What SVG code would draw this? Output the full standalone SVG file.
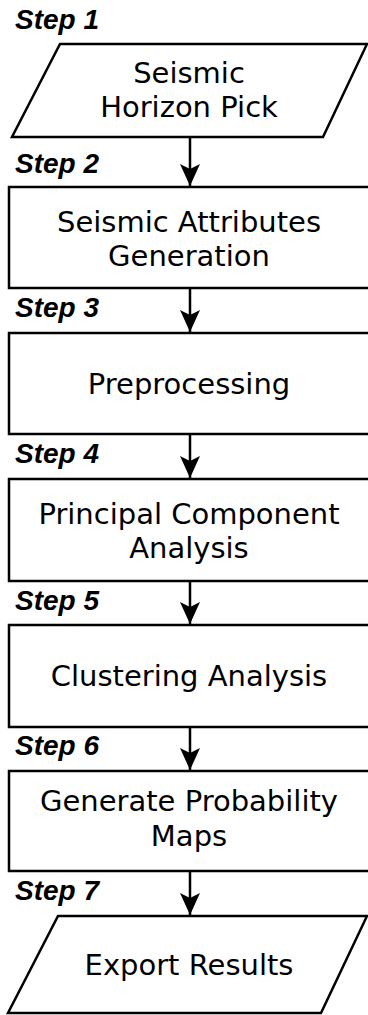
<svg xmlns="http://www.w3.org/2000/svg" width="368" height="1015" viewBox="0 0 368 1015">
<style>
.shape{fill:#fff;stroke:#000;stroke-width:2.5}
.lbl{font-family:"DejaVu Sans",sans-serif;font-size:29px;fill:#000;text-anchor:middle}
.step{font-family:"Liberation Sans",Arial,sans-serif;font-size:28px;font-weight:bold;font-style:italic;fill:#000}
.conn{stroke:#000;stroke-width:2.5;fill:none}
</style>
<defs>
<marker id="arrow" viewBox="0 0 22 20" refX="22" refY="10" markerWidth="22" markerHeight="20" orient="auto" markerUnits="userSpaceOnUse">
<path d="M0,0 L22,10 L0,20 L5,10 Z" fill="#000"/>
</marker>
</defs>
<rect width="368" height="1015" fill="#fff"/>
<g id="step-labels">
<text class="step" x="15" y="29">Step 1</text>
<text class="step" x="15" y="173">Step 2</text>
<text class="step" x="15" y="317">Step 3</text>
<text class="step" x="15" y="463">Step 4</text>
<text class="step" x="15" y="610">Step 5</text>
<text class="step" x="15" y="755">Step 6</text>
<text class="step" x="15" y="900">Step 7</text>
</g>
<g id="connectors">
<line class="conn" x1="190" y1="137" x2="190" y2="186" marker-end="url(#arrow)"/>
<line class="conn" x1="190" y1="288" x2="190" y2="332" marker-end="url(#arrow)"/>
<line class="conn" x1="190" y1="434" x2="190" y2="478" marker-end="url(#arrow)"/>
<line class="conn" x1="190" y1="581" x2="190" y2="624" marker-end="url(#arrow)"/>
<line class="conn" x1="190" y1="727" x2="190" y2="770" marker-end="url(#arrow)"/>
<line class="conn" x1="190" y1="871" x2="190" y2="915" marker-end="url(#arrow)"/>
</g>
<g id="n1">
<polygon class="shape" points="60,44 367,44 323,137 12,137"/>
<text class="lbl" x="189" y="83">Seismic</text>
<text class="lbl" x="189" y="117">Horizon Pick</text>
</g>
<g id="n2">
<rect class="shape" x="9" y="187" width="362" height="101"/>
<text class="lbl" x="189" y="232">Seismic Attributes</text>
<text class="lbl" x="189" y="266">Generation</text>
</g>
<g id="n3">
<rect class="shape" x="9" y="333" width="362" height="101"/>
<text class="lbl" x="189" y="394">Preprocessing</text>
</g>
<g id="n4">
<rect class="shape" x="9" y="479" width="362" height="102"/>
<text class="lbl" x="189" y="524">Principal Component</text>
<text class="lbl" x="189" y="558">Analysis</text>
</g>
<g id="n5">
<rect class="shape" x="9" y="625" width="362" height="102"/>
<text class="lbl" x="189" y="686">Clustering Analysis</text>
</g>
<g id="n6">
<rect class="shape" x="9" y="771" width="362" height="100"/>
<text class="lbl" x="189" y="811">Generate Probability</text>
<text class="lbl" x="189" y="846">Maps</text>
</g>
<g id="n7">
<polygon class="shape" points="58,916 367,916 321,1013 8,1013"/>
<text class="lbl" x="189" y="975">Export Results</text>
</g>
</svg>
